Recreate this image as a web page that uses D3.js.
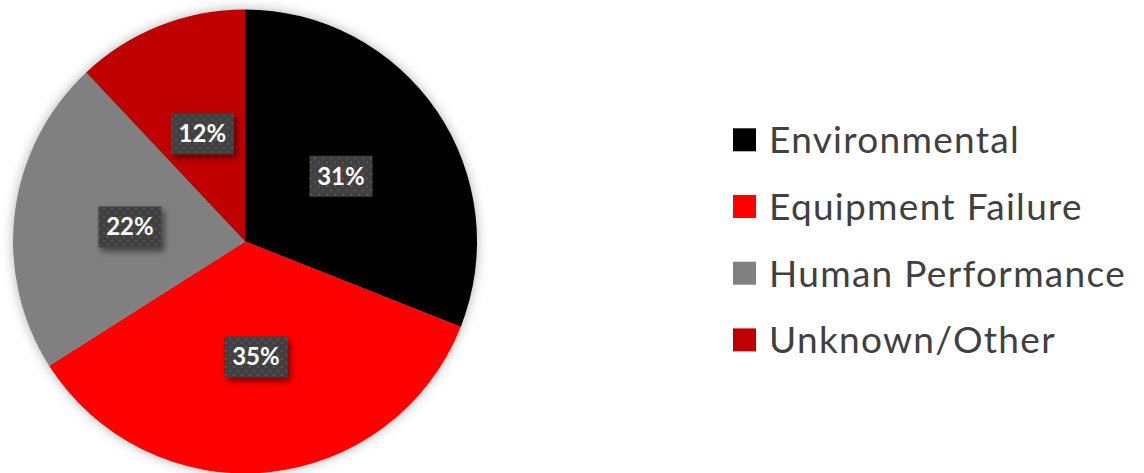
<!DOCTYPE html>
<html><head><meta charset="utf-8">
<script src="https://cdn.jsdelivr.net/npm/d3@7"></script>
<style>html,body{margin:0;padding:0;background:#fff;}svg{display:block;}</style>
</head><body>
<svg id="c" width="1144" height="473"></svg>
<script>
const categories = ["Environmental", "Equipment Failure", "Human Performance", "Unknown/Other"];
const values = [31, 35, 22, 12];
const colors = ["#000000", "#FF0000", "#808080", "#C00000"];

const svg = d3.select("#c");
const cx = 245, cy = 241.5, R = 232;

const defs = svg.append("defs");
const f1 = defs.append("filter").attr("id","pieShadow").attr("x","-20%").attr("y","-20%").attr("width","140%").attr("height","140%");
f1.append("feDropShadow").attr("dx",0).attr("dy",0).attr("stdDeviation",6).attr("flood-color","#000").attr("flood-opacity",0.3);
const f2 = defs.append("filter").attr("id","boxShadow").attr("x","-30%").attr("y","-30%").attr("width","160%").attr("height","160%");
f2.append("feDropShadow").attr("dx",3).attr("dy",4).attr("stdDeviation",3).attr("flood-color","#000").attr("flood-opacity",0.5);
const pat = defs.append("pattern").attr("id","dots").attr("patternUnits","userSpaceOnUse").attr("width",8).attr("height",8);
pat.append("rect").attr("width",8).attr("height",8).attr("fill","#404040");
pat.append("rect").attr("x",1).attr("y",1).attr("width",2).attr("height",2).attr("fill","#555");
pat.append("rect").attr("x",5).attr("y",5).attr("width",2).attr("height",2).attr("fill","#555");

const data = categories.map((c,i)=>({name:c, value:values[i], color:colors[i]}));
const pie = d3.pie().value(d=>d.value).sort(null);
const arcs = pie(data);
const arc = d3.arc().innerRadius(0).outerRadius(R);
const labelArc = d3.arc().innerRadius(R*0.5).outerRadius(R*0.5);

const g = svg.append("g").attr("transform",`translate(${cx},${cy})`);
g.append("g").attr("filter","url(#pieShadow)")
  .selectAll("path").data(arcs).join("path")
  .attr("d",arc).attr("fill",d=>d.data.color);

const lg = g.selectAll("g.lab").data(arcs).join("g").attr("class","lab")
  .attr("transform",d=>{const p=labelArc.centroid(d);return `translate(${p[0]},${p[1]})`;});
lg.append("rect").attr("x",-31.5).attr("y",-20.5).attr("width",63).attr("height",41)
  .attr("fill","url(#dots)").attr("filter","url(#boxShadow)");
lg.append("text").attr("text-anchor","middle").attr("y",8.5)
  .attr("font-family","Lato, 'Open Sans', sans-serif").attr("font-weight","bold").attr("font-size",24)
  .attr("fill","#fff").text(d=>Math.round(d.value/d3.sum(values)*100)+"%");

const leg = svg.append("g");
const items = leg.selectAll("g").data(data).join("g")
  .attr("transform",(d,i)=>`translate(733,${153.3 + i*66.7})`);
items.append("rect").attr("x",0).attr("y",-25).attr("width",23).attr("height",23).attr("fill",d=>d.color);
items.append("text").attr("x",36).attr("y",0)
  .attr("font-family","Lato, 'Open Sans', sans-serif").attr("font-size",37).attr("letter-spacing",1.3)
  .attr("fill","#404040").text(d=>d.name);
</script>
</body></html>
